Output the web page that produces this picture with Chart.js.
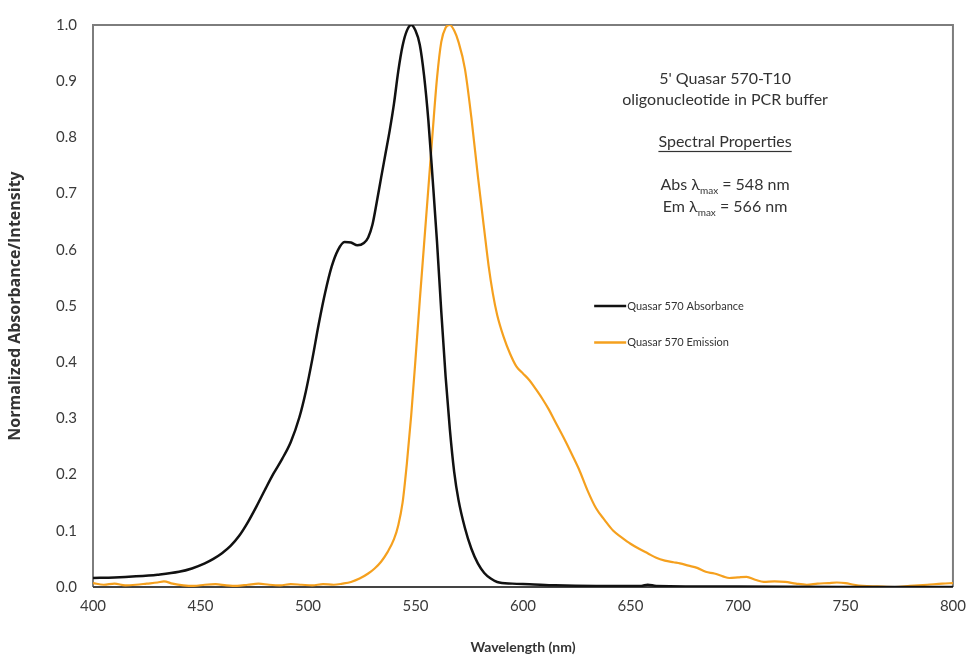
<!DOCTYPE html>
<html>
<head>
<meta charset="utf-8">
<script src="https://cdn.jsdelivr.net/npm/chart.js@4.4.1/dist/chart.umd.min.js"></script>
<style>
  html, body { margin: 0; padding: 0; background: #fff; }
  #box { width: 976px; height: 660px; }
</style>
</head>
<body>
<div id="box"><canvas id="grafico"></canvas></div>
<script>
// Absorbance curve (wavelength nm, normalized value)
const absNm = [400, 410, 420, 430, 440, 446, 452, 456, 460, 464, 468, 472, 476, 480, 484, 488, 492, 496, 499, 502,
  505, 508, 511, 514, 517, 520, 523, 526, 528, 530, 532, 534, 536, 538, 540, 542, 544, 546, 548, 550,
  552, 554, 556, 558, 560, 562, 564, 566, 568, 570, 573, 576, 579, 582, 585, 588, 595, 603, 615, 634,
  655, 658, 662, 700, 750, 800];
const absVal = [0.016, 0.017, 0.019, 0.022, 0.027, 0.033, 0.042, 0.050, 0.060, 0.073, 0.091, 0.115, 0.143, 0.173, 0.202, 0.228, 0.258, 0.302, 0.348, 0.405,
  0.468, 0.524, 0.570, 0.600, 0.614, 0.613, 0.608, 0.612, 0.622, 0.645, 0.685, 0.728, 0.770, 0.812, 0.860, 0.918, 0.963, 0.990, 1.000, 0.990,
  0.965, 0.910, 0.830, 0.725, 0.615, 0.490, 0.375, 0.280, 0.205, 0.155, 0.105, 0.068, 0.042, 0.025, 0.015, 0.009, 0.006, 0.005, 0.003, 0.002,
  0.002, 0.004, 0.002, 0.001, 0.000, 0.000];

// Emission curve
const emNm = [400, 405, 410, 415, 420, 425, 430, 433, 437, 442, 447, 452, 457, 462, 467, 472, 477, 482, 487, 492,
  497, 502, 507, 512, 516, 520, 524, 528, 531, 534, 537, 540, 542, 544, 546, 548, 550, 552, 554, 556,
  558, 560, 562, 564, 566, 568, 570, 573, 576, 579, 582, 584, 586, 588, 591, 594, 597, 600, 603, 606,
  609, 612, 615, 619, 622, 626, 630, 634, 638, 642, 646, 650, 654, 658, 662, 666, 670, 673, 677, 681,
  685, 689, 693, 696, 700, 704, 708, 712, 717, 722, 727, 732, 737, 742, 746, 750, 754, 758, 765, 773,
  780, 788, 795, 800];
const emVal = [0.007, 0.004, 0.006, 0.003, 0.004, 0.006, 0.008, 0.010, 0.006, 0.003, 0.002, 0.004, 0.005, 0.003, 0.002, 0.004, 0.006, 0.004, 0.003, 0.005,
  0.004, 0.003, 0.005, 0.004, 0.006, 0.009, 0.015, 0.024, 0.033, 0.045, 0.062, 0.085, 0.110, 0.150, 0.220, 0.305, 0.405, 0.510, 0.610, 0.710,
  0.810, 0.905, 0.970, 0.995, 1.000, 0.990, 0.970, 0.922, 0.835, 0.732, 0.635, 0.572, 0.522, 0.484, 0.445, 0.415, 0.392, 0.380, 0.368, 0.352,
  0.335, 0.316, 0.294, 0.265, 0.242, 0.210, 0.172, 0.140, 0.119, 0.100, 0.088, 0.077, 0.068, 0.060, 0.052, 0.047, 0.044, 0.042, 0.038, 0.034,
  0.027, 0.024, 0.019, 0.016, 0.017, 0.018, 0.013, 0.009, 0.010, 0.009, 0.006, 0.004, 0.006, 0.007, 0.008, 0.007, 0.004, 0.002, 0.001, 0.000,
  0.002, 0.004, 0.006, 0.007];

const seriesNames = ['Quasar 570 Absorbance', 'Quasar 570 Emission'];
const seriesColors = ['#111111', '#f5a01e'];

const infoLines = ["5' Quasar 570-T10", 'oligonucleotide in PCR buffer'];
const propsTitle = 'Spectral Properties';
const lambdaLines = [['Abs \u03bb', 'max', ' = 548 nm'], ['Em \u03bb', 'max', ' = 566 nm']];

const fontFam = 'Lato, "Open Sans", sans-serif';
const textColor = '#333333';

function toPoints(xs, ys) {
  return xs.map((x, i) => ({ x: x, y: ys[i] }));
}

// frame around the plot + text block + legend inside the plot
const extras = {
  id: 'extras',
  beforeDatasetsDraw(chart) {
    const c = chart.ctx;
    const a = chart.chartArea;
    c.save();
    c.strokeStyle = '#7d7d7d';
    c.lineWidth = 2;
    c.beginPath();
    c.moveTo(a.left, a.bottom);
    c.lineTo(a.left, a.top);
    c.lineTo(a.right, a.top);
    c.lineTo(a.right, a.bottom);
    c.stroke();
    c.strokeStyle = '#444444';
    c.beginPath();
    c.moveTo(a.left, a.bottom);
    c.lineTo(a.right, a.bottom);
    c.stroke();
    c.restore();
  },
  afterDraw(chart) {
    const c = chart.ctx;
    const xs = chart.scales.x;
    const ys = chart.scales.y;
    const cx = xs.getPixelForValue(694);
    c.save();
    c.fillStyle = textColor;
    c.textAlign = 'center';
    c.textBaseline = 'middle';
    c.font = '16px ' + fontFam;
    c.fillText(infoLines[0], cx, ys.getPixelForValue(0.905));
    c.fillText(infoLines[1], cx, ys.getPixelForValue(0.867));

    const py = ys.getPixelForValue(0.792);
    c.fillText(propsTitle, cx, py);
    const w = c.measureText(propsTitle).width;
    c.fillRect(cx - w / 2, py + 9, w, 1.2);

    lambdaLines.forEach((parts, i) => {
      const y = ys.getPixelForValue(i === 0 ? 0.715 : 0.677);
      c.font = '16px ' + fontFam;
      const w1 = c.measureText(parts[0]).width;
      const w3 = c.measureText(parts[2]).width;
      c.font = '10px ' + fontFam;
      const w2 = c.measureText(parts[1]).width;
      let x = cx - (w1 + w2 + w3) / 2;
      c.textAlign = 'left';
      c.font = '16px ' + fontFam;
      c.fillText(parts[0], x, y);
      c.font = '10px ' + fontFam;
      c.fillText(parts[1], x + w1, y + 6);
      c.font = '16px ' + fontFam;
      c.fillText(parts[2], x + w1 + w2, y);
      c.textAlign = 'center';
    });

    // legend
    const lx = xs.getPixelForValue(648);
    c.textAlign = 'left';
    c.font = '11px ' + fontFam;
    seriesNames.forEach((name, i) => {
      const y = ys.getPixelForValue(i === 0 ? 0.5 : 0.435);
      c.strokeStyle = seriesColors[i];
      c.lineWidth = 2.5;
      c.beginPath();
      c.moveTo(lx - 32, y);
      c.lineTo(lx, y);
      c.stroke();
      c.fillStyle = textColor;
      c.fillText(name, lx + 1, y);
    });
    c.restore();
  }
};

const config = {
  type: 'line',
  data: {
    datasets: [
      {
        label: seriesNames[0],
        data: toPoints(absNm, absVal),
        borderColor: seriesColors[0],
        backgroundColor: seriesColors[0],
        borderWidth: 2.5,
        pointRadius: 0,
        cubicInterpolationMode: 'monotone',
        order: 1
      },
      {
        label: seriesNames[1],
        data: toPoints(emNm, emVal),
        borderColor: seriesColors[1],
        backgroundColor: seriesColors[1],
        borderWidth: 2.2,
        pointRadius: 0,
        cubicInterpolationMode: 'monotone',
        order: 2
      }
    ]
  },
  options: {
    responsive: true,
    maintainAspectRatio: false,
    animation: false,
    layout: { padding: { top: 22, right: 18, left: 0, bottom: 0 } },
    plugins: {
      legend: { display: false },
      tooltip: { enabled: false }
    },
    scales: {
      x: {
        type: 'linear',
        min: 400,
        max: 800,
        grid: { display: false, drawTicks: false },
        border: { display: false },
        ticks: { stepSize: 50, padding: 10, color: '#3a3a3a', font: { family: fontFam, size: 15 } },
        title: { display: true, text: 'Wavelength (nm)', color: '#333', padding: { top: 0, bottom: 4 },
          font: { family: fontFam, size: 14, weight: 'bold' } },
        afterFit(scale) { scale.height = 73; }
      },
      y: {
        min: 0,
        max: 1,
        grid: { display: false, drawTicks: false },
        border: { display: false },
        ticks: { stepSize: 0.1, padding: 16, color: '#3a3a3a', font: { family: fontFam, size: 15 },
          callback: v => v.toFixed(1) },
        title: { display: true, text: 'Normalized Absorbance/Intensity', color: '#333', padding: { top: 6, bottom: 0 },
          font: { family: '"Open Sans", sans-serif', size: 16, weight: 'bold' } },
        afterFit(scale) { scale.width = 93; }
      }
    }
  },
  plugins: [extras]
};

const grafico = new Chart(document.getElementById('grafico').getContext('2d'), config);
</script>
</body>
</html>
